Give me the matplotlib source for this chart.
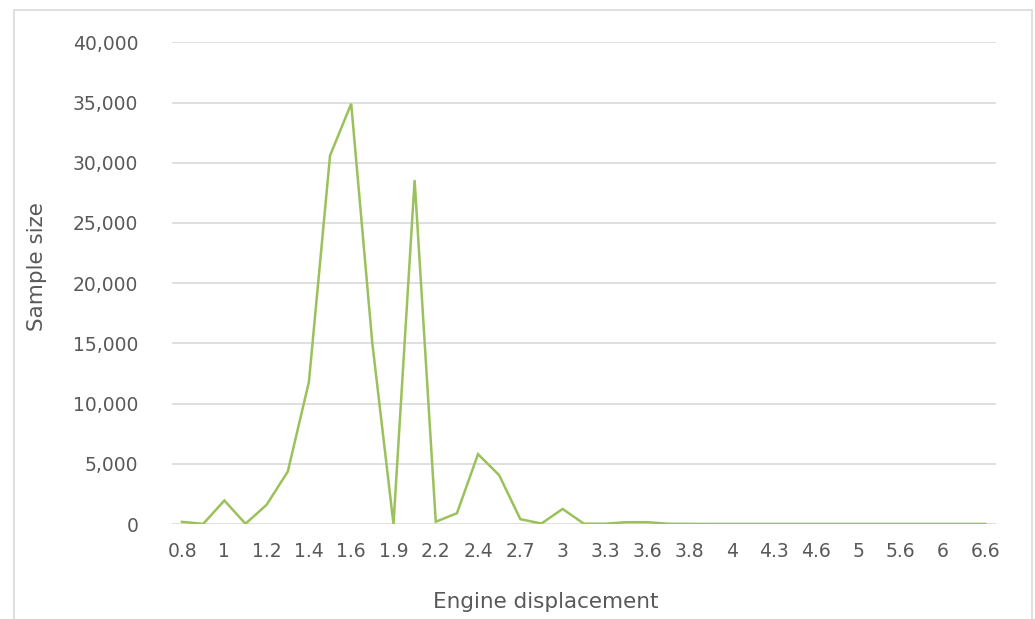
import matplotlib
matplotlib.use("Agg")
import matplotlib.pyplot as plt
from matplotlib.patches import Rectangle
from matplotlib.ticker import FuncFormatter, MultipleLocator

# Engine displacement categories (litres) and number of samples in each
displacement = ['0.8', '0.9', '1', '1.1', '1.2', '1.3', '1.4', '1.5', '1.6', '1.8',
                '1.9', '2', '2.2', '2.3', '2.4', '2.5', '2.7', '2.8', '3', '3.2',
                '3.3', '3.5', '3.6', '3.7', '3.8', '3.9', '4', '4.2', '4.3', '4.4',
                '4.6', '4.8', '5', '5.5', '5.6', '5.7', '6', '6.2', '6.6']
sample_size = [180, 10, 1950, 20, 1600, 4350, 11800, 30600, 34900, 15000,
               0, 28550, 190, 890, 5800, 4050, 400, 40, 1250, 30,
               20, 150, 150, 20, 10, 5, 5, 5, 5, 5,
               5, 5, 5, 5, 5, 5, 5, 5, 5]

text_color = '#595959'
grid_color = '#d9d9d9'
line_color = '#9bc15b'

plt.rcParams['font.family'] = ['DejaVu Sans']

W, H = 1035, 619
fig = plt.figure(figsize=(W / 100, H / 100), dpi=100)

# chart frame
fig.patches.append(Rectangle((14 / W, -0.1), (1031.5 - 14) / W, 1.1 - 10 / H,
                             transform=fig.transFigure, fill=False,
                             edgecolor=grid_color, linewidth=1.2))

left, right, top, bottom = 171.5, 996, 42.3, 524
ax = fig.add_axes([left / W, (H - bottom) / H, (right - left) / W, (bottom - top) / H])

x = range(len(displacement))
ax.plot(x, sample_size, color=line_color, linewidth=1.8, solid_joinstyle='miter')

ax.set_xlim(-0.5, len(displacement) - 0.5)
ax.set_ylim(0, 40000)
ax.yaxis.set_major_locator(MultipleLocator(5000))
ax.yaxis.set_major_formatter(FuncFormatter(lambda v, p: f'{int(v):,}'))
ax.grid(axis='y', color=grid_color, linewidth=1.2)
ax.set_axisbelow(True)

ax.set_xticks(list(x)[::2])
ax.set_xticklabels(displacement[::2])

for side in ['top', 'right', 'left', 'bottom']:
    ax.spines[side].set_visible(False)
ax.tick_params(axis='both', length=0, labelsize=13.5, labelcolor=text_color)
ax.tick_params(axis='y', pad=24)
ax.tick_params(axis='x', pad=13)

fig.text(37 / W, 1 - 267 / H, 'Sample size', rotation=90, ha='center', va='center',
         fontsize=15.5, color=text_color)
fig.text(546 / W, 1 - 602 / H, 'Engine displacement', ha='center', va='center',
         fontsize=15.5, color=text_color)

fig.savefig('out.png', dpi=100, facecolor='white')
